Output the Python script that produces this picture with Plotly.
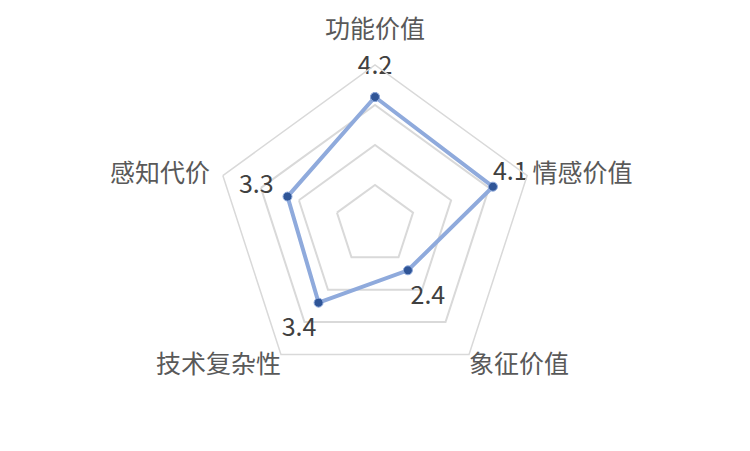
import plotly.graph_objects as go

# radar values
categories = ["功能价值", "情感价值", "象征价值", "技术复杂性", "感知代价"]
scores = [4.2, 4.1, 2.4, 3.4, 3.3]

# label placement (style only)
value_label_shift = [0.72, 0.0, 0.85, 0.83, 0.82]
value_label_pos = ["middle center", "top right", "middle center", "middle center", "middle center"]
cat_label_pos = ["top center", "middle right", "bottom right", "bottom left", "middle left"]
cat_label_gap = [31, 7, 0, 0, 19]  # invisible marker sizes -> text offset

r_max = 5

fig = go.Figure()

# data line, closed loop
fig.add_trace(go.Scatterpolar(
  r=scores + scores[:1],
  theta=categories + categories[:1],
  mode="lines+markers",
  line=dict(color="#8faadc", width=4),
  marker=dict(size=9, color="#2f5597", line=dict(color="#8faadc", width=1)),
  hoverinfo="skip",
))

# value labels, pushed outward along each spoke
fig.add_trace(go.Scatterpolar(
  r=[v + s for v, s in zip(scores, value_label_shift)],
  theta=categories,
  mode="text",
  text=[str(v) for v in scores],
  textposition=value_label_pos,
  textfont=dict(size=25, color="#404040"),
  cliponaxis=False,
  hoverinfo="skip",
))

# category labels at the outer ring
fig.add_trace(go.Scatterpolar(
  r=[r_max] * len(categories),
  theta=categories,
  mode="markers+text",
  text=categories,
  textposition=cat_label_pos,
  textfont=dict(size=25, color="#595959"),
  marker=dict(size=cat_label_gap, opacity=0),
  cliponaxis=False,
  hoverinfo="skip",
))

fig.update_layout(
  width=750, height=451,
  margin=dict(l=0, r=16, t=57, b=74),
  paper_bgcolor="white",
  showlegend=False,
  font=dict(family="Noto Sans CJK SC, sans-serif"),
  polar=dict(
    bgcolor="white",
    gridshape="linear",
    radialaxis=dict(
      range=[1, r_max], dtick=1, showticklabels=False, ticks="",
      showline=False, gridcolor="#d9d9d9", gridwidth=1.5,
    ),
    angularaxis=dict(
      rotation=90, direction="clockwise",
      showgrid=False, showticklabels=False, ticks="",
      showline=True, linecolor="#d9d9d9", linewidth=1.5,
    ),
  ),
)

fig.write_html("out.html")
